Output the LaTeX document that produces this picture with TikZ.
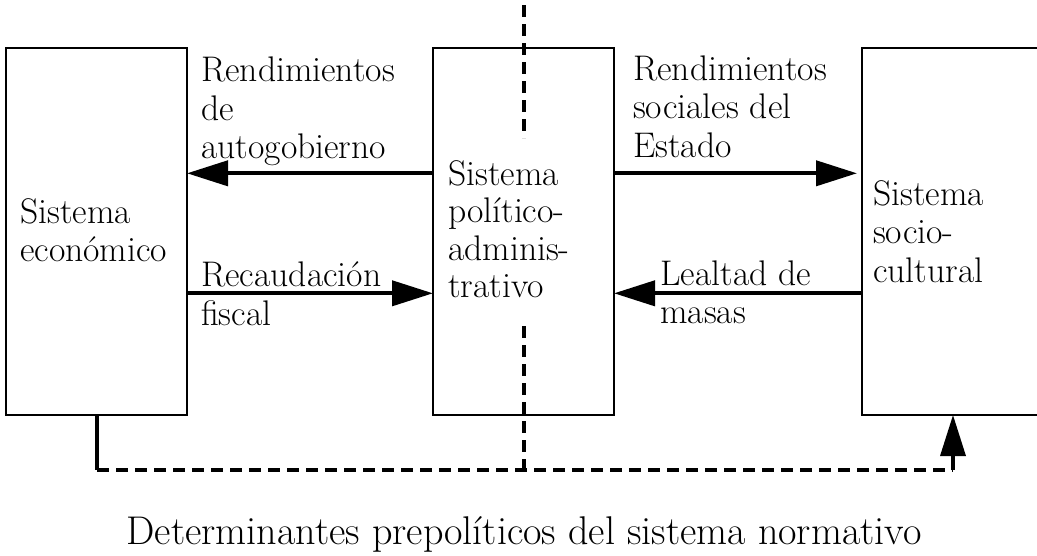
\documentclass[tikz,border=0pt]{standalone}
\usetikzlibrary{arrows.meta}
\begin{document}
\begin{tikzpicture}[x=1pt,y=-1pt,
  sysbox/.style={draw,line width=2pt,inner sep=0pt,outer sep=0pt,minimum width=181pt,minimum height=367pt},
  lbl/.style={anchor=north west,inner sep=0pt,align=left,font=\fontsize{35.6}{38.5}\selectfont},
  flow/.style={line width=4pt,-{Triangle[length=41pt,width=25pt]}},
  feed/.style={line width=3.5pt,dash pattern=on 12pt off 7pt},
  feedsolid/.style={line width=3.5pt}]
\useasboundingbox (0,0) rectangle (1037,555);
\clip (0,0) rectangle (1037,555);
% boxes
\node[sysbox] (eco) at (96.5,231.5) {};
\node[sysbox] (pol) at (523.5,231.5) {};
\node[sysbox,minimum width=200pt] (soc) at (962,231.5) {};
% box texts
\node[lbl] (ecot) at (20,198) {Sistema\\económico};
\node[lbl,font=\fontsize{35.6}{37.5}\selectfont] (polt) at (448,160.3) {Sistema\\político-\\adminis-\\trativo};
\node[lbl] (soct) at (873,180.3) {Sistema\\socio-\\cultural};
% arrow labels
\node[lbl] (la) at (201,57) {Rendimientos\\de\\autogobierno};
\node[lbl] (lb) at (201,262) {Recaudación\\fiscal};
\node[lbl] (lc) at (633,55.3) {Rendimientos\\sociales del\\Estado};
\node[lbl] (ld) at (660,260.3) {Lealtad de\\masas};
% coordinates
\coordinate (ya) at (0,173.3);
\coordinate (yb) at (0,293.3);
\coordinate (dtop) at (524,5);
\coordinate (dmid1) at (524,138);
\coordinate (dmid2) at (524,326);
\coordinate (dbot) at (524,470);
\coordinate (cl) at (97,470);
\coordinate (cr) at (953,470);
% flows
\draw[flow] (pol.west |- ya) -- (eco.east |- ya);
\draw[flow] (eco.east |- yb) -- (pol.west |- yb);
\draw[flow,shorten >=5pt] (pol.east |- ya) -- (soc.west |- ya);
\draw[flow] (soc.west |- yb) -- (pol.east |- yb);
% dashed separator
\draw[feed] (dtop) -- (dmid1);
\draw[feed] (dmid2) -- (dbot);
% feedback path
\draw[feedsolid] (eco.south -| cl) -- (cl);
\draw[feed] (cl) -- (cr);
\draw[feedsolid,-{Triangle[length=41pt,width=25pt]}] (cr) -- (soc.south -| cr);
% title
\node[anchor=base,inner sep=0pt,font=\fontsize{40.1}{48}\selectfont] (title) at (524,544) {Determinantes prepolíticos del sistema normativo};
\end{tikzpicture}
\end{document}
